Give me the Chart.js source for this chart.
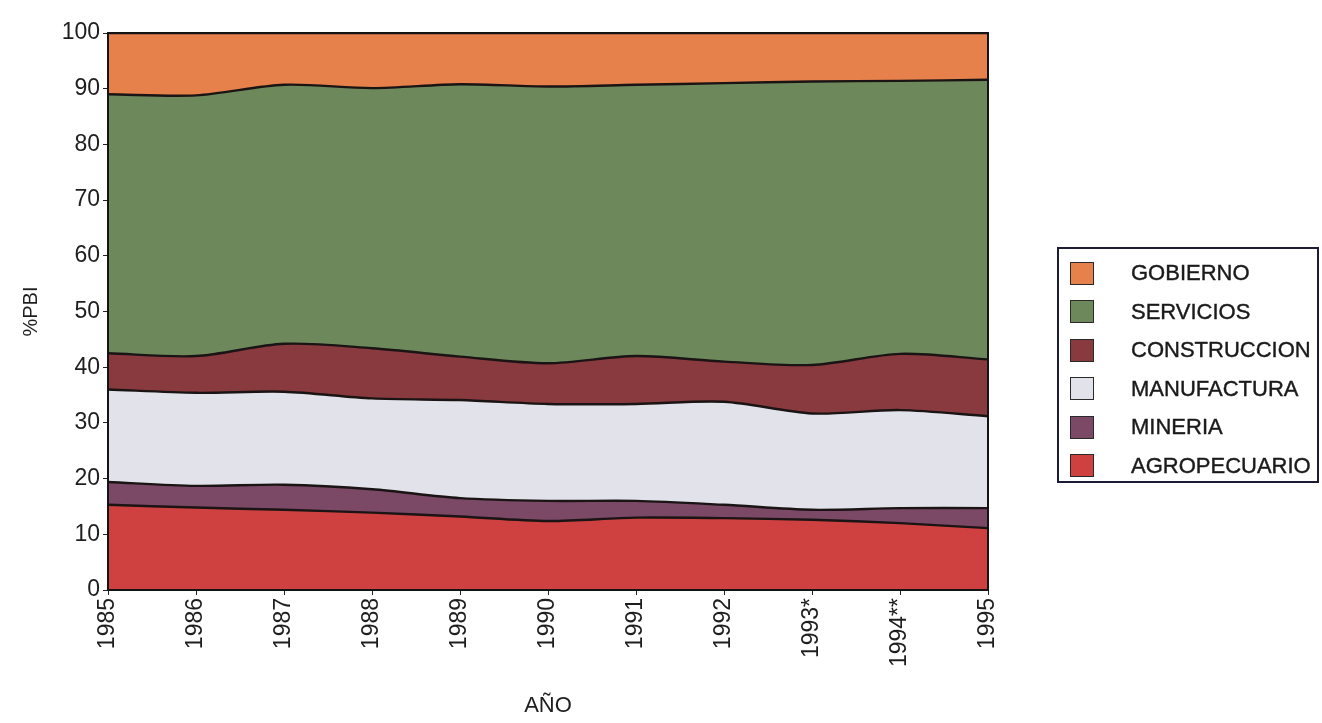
<!DOCTYPE html>
<html>
<head>
<meta charset="utf-8">
<script src="https://cdn.jsdelivr.net/npm/chart.js@4"></script>
<style>
  body { margin: 0; background: #fff; }
  #wrap { position: relative; width: 1322px; height: 723px; }
  #leyenda {
    position: absolute; left: 1057px; top: 247px; width: 258px; height: 227px;
    border: 2px solid #1c1c38; padding: 5px 0 0 0;
    font-family: "Liberation Sans", Arial, sans-serif; font-size: 22px; color: #1a1a1a;
    -webkit-text-stroke: 0.4px #1a1a1a;
  }
  .fila { height: 38.5px; display: flex; align-items: center; }
  .caja { width: 22px; height: 21px; margin-left: 11px; border: 1.5px solid #2a2a2a; }
  .texto { margin-left: 37px; }
</style>
</head>
<body>
<div id="wrap">
  <canvas id="grafico" width="1322" height="723"></canvas>
  <div id="leyenda"></div>
</div>
<script>
const anios = ['1985', '1986', '1987', '1988', '1989', '1990', '1991', '1992', '1993*', '1994**', '1995'];

const agropecuario = [15.3, 14.8, 14.4, 13.9, 13.2, 12.4, 13.0, 12.9, 12.6, 12.0, 11.1];
const mineria      = [4.1, 3.9, 4.5, 4.2, 3.3, 3.6, 3.0, 2.4, 1.8, 2.7, 3.6];
const manufactura  = [16.6, 16.7, 16.7, 16.3, 17.6, 17.4, 17.4, 18.5, 17.3, 17.6, 16.5];
const construccion = [6.5, 6.6, 8.6, 9.0, 7.8, 7.3, 8.6, 7.2, 8.7, 10.1, 10.2];
const servicios    = [46.5, 46.8, 46.5, 46.7, 48.9, 49.7, 48.7, 50.0, 50.9, 49.0, 50.2];
const gobierno     = [11.0, 11.2, 9.3, 9.9, 9.2, 9.6, 9.3, 9.0, 8.7, 8.6, 8.4];

const series = [
    { label: 'AGROPECUARIO', data: agropecuario, color: '#cf4141' },
    { label: 'MINERIA', data: mineria, color: '#7b4866' },
    { label: 'MANUFACTURA', data: manufactura, color: '#e2e3ea' },
    { label: 'CONSTRUCCION', data: construccion, color: '#893a3f' },
    { label: 'SERVICIOS', data: servicios, color: '#6d895b' },
    { label: 'GOBIERNO', data: gobierno, color: '#e6814c' }
];

const fuente = '"Liberation Sans", Arial, sans-serif';

const datasets = series.map((s, i) => ({
    label: s.label,
    data: s.data,
    backgroundColor: s.color,
    borderColor: '#1a1414',
    borderWidth: 2.4,
    fill: i === 0 ? 'origin' : '-1',
    tension: 0.3,
    pointRadius: 0
}));

// marco negro alrededor del area del grafico
const marco = {
    id: 'marco',
    afterDatasetsDraw(chart) {
        const a = chart.chartArea;
        const c = chart.ctx;
        c.save();
        c.strokeStyle = '#141414';
        c.lineWidth = 2;
        c.strokeRect(a.left, a.top, a.right - a.left, a.bottom - a.top);
        c.restore();
    }
};

new Chart(document.getElementById('grafico'), {
    type: 'line',
    data: { labels: anios, datasets: datasets },
    options: {
        responsive: false,
        animation: false,
        layout: { padding: { left: 0, top: 33, right: 334, bottom: 0 } },
        plugins: { legend: { display: false }, tooltip: { enabled: false } },
        scales: {
            x: {
                grid: { drawOnChartArea: false, tickLength: 5, color: '#222' },
                border: { display: false },
                ticks: {
                    minRotation: 90, maxRotation: 90, padding: 3,
                    color: '#1e1e1e', font: { family: fuente, size: 23 }
                },
                title: {
                    display: true, text: 'AÑO', color: '#1e1e1e',
                    font: { family: fuente, size: 22 }, padding: { top: 0, bottom: 4 }
                },
                afterFit(scale) { scale.height = 133; }
            },
            y: {
                stacked: true,
                min: 0, max: 100,
                grid: { drawOnChartArea: false, tickLength: 5, color: '#222' },
                border: { display: false },
                ticks: {
                    stepSize: 10, padding: 3,
                    color: '#1e1e1e', font: { family: fuente, size: 23 }
                },
                title: {
                    display: true, text: '%PBI', color: '#1e1e1e',
                    font: { family: fuente, size: 20 }, padding: { top: 19, bottom: 0 }
                },
                afterFit(scale) { scale.width = 108; }
            }
        }
    },
    plugins: [marco]
});

// leyenda, de arriba hacia abajo
const leyenda = document.getElementById('leyenda');
series.slice().reverse().forEach(s => {
    const fila = document.createElement('div');
    fila.className = 'fila';
    fila.innerHTML = '<div class="caja" style="background:' + s.color + '"></div><span class="texto">' + s.label + '</span>';
    leyenda.appendChild(fila);
});
</script>
</body>
</html>
